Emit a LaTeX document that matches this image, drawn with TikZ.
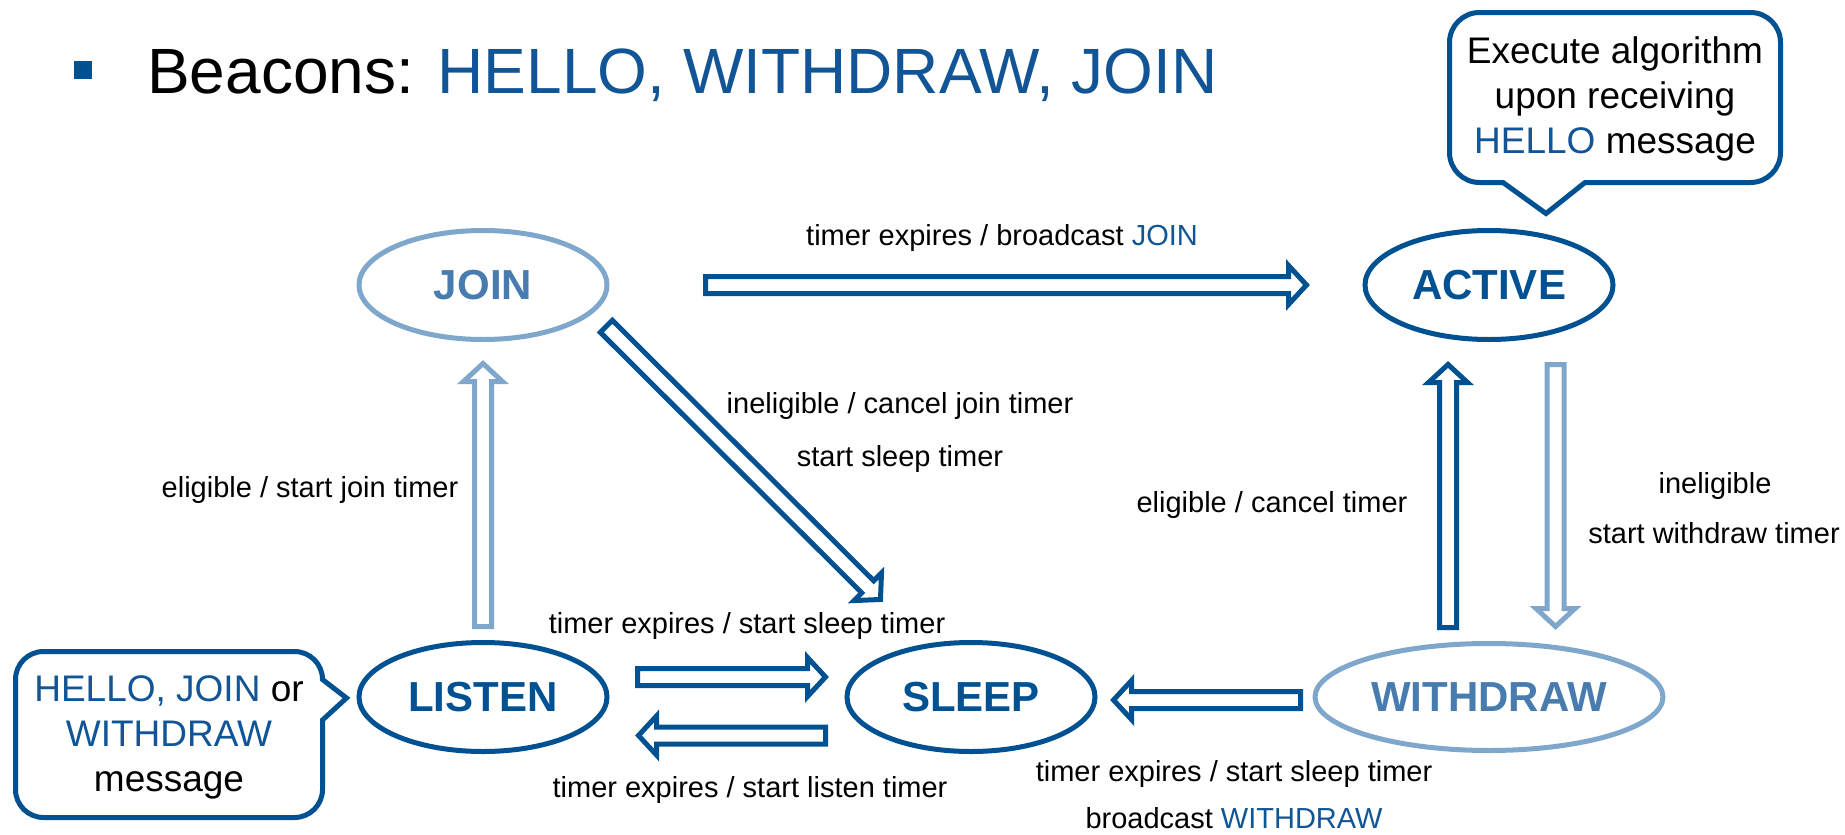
\documentclass[tikz,border=0pt]{standalone}
\usepackage{fontspec}
\setmainfont{Liberation Sans}
\usetikzlibrary{shapes.geometric,calc}

\definecolor{deepblue}{RGB}{0,81,146}
\definecolor{paleblue}{RGB}{127,167,203}
\definecolor{midblue}{RGB}{72,124,175}
\definecolor{msgblue}{RGB}{17,85,150}

\tikzset{
  state/.style={ellipse, draw=deepblue, line width=5pt, fill=white,
    minimum width=248pt, minimum height=109pt, inner sep=0pt,
    font=\fontsize{42}{50}\selectfont\bfseries, text=deepblue},
  faded/.style={draw=paleblue, text=midblue},
  lbl/.style={anchor=base, inner sep=0pt, font=\fontsize{29}{35}\selectfont},
  darrow/.style={draw=deepblue, line width=5pt, fill=white, line join=miter},
  larrow/.style={draw=paleblue, line width=5pt, fill=white, line join=miter},
  bubble/.style={draw=deepblue, line width=5pt, fill=white, line join=miter},
  bubbletext/.style={align=center, inner sep=0pt, font=\fontsize{37}{45}\selectfont}
}

% hollow block arrow from #2 to #3, drawn with style #1
\newcommand\blockarrow[3]{%
  \draw[#1] let \p1=(#2), \p2=(#3),
      \n1={atan2(\y2-\y1,\x2-\x1)}, \n2={veclen(\x2-\x1,\y2-\y1)} in
    [shift={(\p1)}, rotate=\n1]
    (0,8.5) -- (\n2-18,8.5) -- (\n2-18,19.5) -- (\n2,0)
    -- (\n2-18,-19.5) -- (\n2-18,-8.5) -- (0,-8.5) -- cycle;}

\begin{document}
\begin{tikzpicture}[x=1pt,y=1pt]
\useasboundingbox (0,0) rectangle (1845,-835);

% heading
\fill[deepblue] (74,-61) rectangle (92,-79);
\node[anchor=base west, inner sep=0pt, font=\fontsize{64}{77}\selectfont] (title) at (147,-93)
  {Beacons: \textcolor{msgblue}{HELLO, WITHDRAW, JOIN}};

% states
\node[state, faded] (join) at (483,-285) {JOIN};
\node[state] (active) at (1489,-285) {ACTIVE};
\node[state] (listen) at (483,-697) {LISTEN};
\node[state] (sleep) at (971,-697) {SLEEP};
\node[state, faded, minimum width=348pt, minimum height=107pt] (withdraw) at (1489,-697) {WITHDRAW};

% arrow end points
\coordinate (joinA) at ($(join.center)+(222.5,0)$);
\coordinate (activeA) at ($(active.center)+(-182.5,0)$);
\coordinate (joinD) at ($(join.center)+(123.3,-41.3)$);
\coordinate (sleepD) at ($(sleep.center)+(-90.5,97.5)$);
\coordinate (listenU) at ($(listen.center)+(0,70.5)$);
\coordinate (joinU) at ($(join.center)+(0,-78.5)$);
\coordinate (withdrawU) at ($(withdraw.center)+(-41,69.5)$);
\coordinate (activeU) at ($(active.center)+(-41,-79.5)$);
\coordinate (activeW) at ($(active.center)+(66.5,-79.5)$);
\coordinate (withdrawW) at ($(withdraw.center)+(66.5,70.5)$);
\coordinate (listenR) at ($(listen.center)+(154.5,20)$);
\coordinate (sleepR) at ($(sleep.center)+(-145.5,20)$);
\coordinate (sleepL) at ($(sleep.center)+(-145.5,-38.5)$);
\coordinate (listenL) at ($(listen.center)+(155.5,-38.5)$);
\coordinate (withdrawS) at ($(withdraw.center)+(-188.5,-3)$);
\coordinate (sleepS) at ($(sleep.center)+(142.5,-3)$);

% transitions
\blockarrow{darrow}{joinA}{activeA}
\blockarrow{darrow}{joinD}{sleepD}
\blockarrow{larrow}{listenU}{joinU}
\blockarrow{darrow}{withdrawU}{activeU}
\blockarrow{larrow}{activeW}{withdrawW}
\blockarrow{darrow}{listenR}{sleepR}
\blockarrow{darrow}{sleepL}{listenL}
\blockarrow{darrow}{withdrawS}{sleepS}

% transition labels
\node[lbl] (lbjoin) at (1002,-245) {timer expires / broadcast \textcolor{msgblue}{JOIN}};
\node[lbl] (lbinel1) at (900,-413) {ineligible / cancel join timer};
\node[lbl] (lbinel2) at (900,-466) {start sleep timer};
\node[lbl] (lbelig) at (310,-497) {eligible / start join timer};
\node[lbl] (lbcancel) at (1272,-512) {eligible / cancel timer};
\node[lbl] (lbwd1) at (1715,-493) {ineligible};
\node[lbl] (lbwd2) at (1714,-543) {start withdraw timer};
\node[lbl] (lbsleep) at (747,-633) {timer expires / start sleep timer};
\node[lbl] (lblisten) at (750,-797) {timer expires / start listen timer};
\node[lbl] (lbws1) at (1234,-781) {timer expires / start sleep timer};
\node[lbl] (lbws2) at (1234,-828) {broadcast \textcolor{msgblue}{WITHDRAW}};

% speech bubble above ACTIVE
\draw[bubble] (1503,-182.5) -- (1546,-213.5) -- (1585,-182.5) -- (1750.5,-182.5)
  arc[start angle=270, end angle=360, radius=30] -- (1780.5,-42.5)
  arc[start angle=0, end angle=90, radius=30] -- (1479.5,-12.5)
  arc[start angle=90, end angle=180, radius=30] -- (1449.5,-152.5)
  arc[start angle=180, end angle=270, radius=30] -- cycle;
\node[bubbletext] (exectext) at (1615,-99)
  {Execute algorithm\\upon receiving\\\textcolor{msgblue}{HELLO} message};

% speech bubble beside LISTEN
\draw[bubble] (322.5,-720) -- (346.5,-698) -- (322.5,-679.5)
  arc[start angle=0, end angle=90, radius=28] -- (43.5,-651.5)
  arc[start angle=90, end angle=180, radius=28] -- (15.5,-789.5)
  arc[start angle=180, end angle=270, radius=28] -- (294.5,-817.5)
  arc[start angle=270, end angle=360, radius=28] -- cycle;
\node[bubbletext] (msgtext) at (169,-737)
  {\textcolor{msgblue}{HELLO, JOIN} or\\\textcolor{msgblue}{WITHDRAW}\\message};
\end{tikzpicture}
\end{document}
